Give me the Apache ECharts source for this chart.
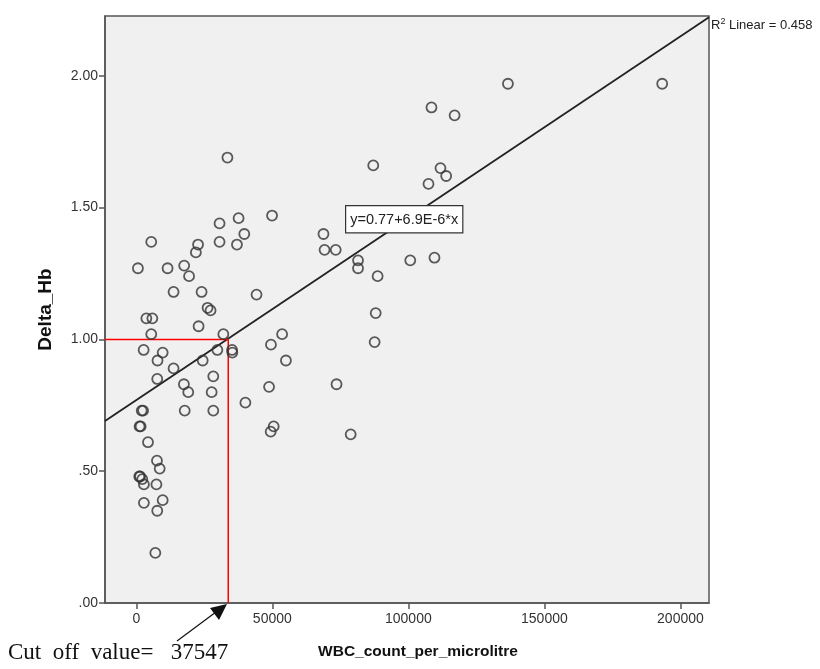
<!DOCTYPE html>
<html>
<head>
<meta charset="utf-8">
<script src="https://cdn.jsdelivr.net/npm/echarts@6/dist/echarts.min.js"></script>
<style>html,body{margin:0;padding:0;background:#fff;}#main{width:820px;height:669px;}</style>
</head>
<body>
<div id="main"></div>
<script>
// WBC count per microlitre (x) and Delta_Hb (y)
const wbc = [
  49900, 37600, 30600, 39700, 5500, 22700, 30600, 37000, 21900, 600,
  11500, 17600, 19400, 13700, 24000, 44200, 26200, 27300, 3700, 5900,
  22900, 5500, 32000, 53600, 49500, 2700, 9700, 29800, 35200, 35300,
  7800, 24400, 55000, 13700, 7700, 28300, 48800, 17500, 19100, 27700,
  40100, 2000, 2500, 17800, 28300, 1200, 1600, 50500, 49400, 4300,
  7600, 8600, 1100, 1400, 2200, 2800, 7400, 9700, 2800, 7700,
  7000, 108500, 117000, 87100, 111800, 113900, 107400, 68800, 69200, 73300,
  81500, 81500, 100700, 109600, 88700, 88000, 87600, 73600, 78800, 136600,
  193300, 33500
];
const deltaHb = [
  1.47, 1.46, 1.44, 1.40, 1.37, 1.36, 1.37, 1.36, 1.33, 1.27,
  1.27, 1.28, 1.24, 1.18, 1.18, 1.17, 1.12, 1.11, 1.08, 1.08,
  1.05, 1.02, 1.02, 1.02, 0.98, 0.96, 0.95, 0.96, 0.96, 0.95,
  0.92, 0.92, 0.92, 0.89, 0.85, 0.86, 0.82, 0.83, 0.80, 0.80,
  0.76, 0.73, 0.73, 0.73, 0.73, 0.67, 0.67, 0.67, 0.65, 0.61,
  0.54, 0.51, 0.48, 0.48, 0.47, 0.45, 0.45, 0.39, 0.38, 0.35,
  0.19, 1.88, 1.85, 1.66, 1.65, 1.62, 1.59, 1.40, 1.34, 1.34,
  1.30, 1.27, 1.30, 1.31, 1.24, 1.10, 0.99, 0.83, 0.64, 1.97,
  1.97, 1.69
];
// linear fit y = 0.77 + 6.9E-6 * x
const fitIntercept = 0.77;
const fitSlope = 6.9e-6;
const xRange = [-11500, 210500];
const yRange = [0, 2.227];
const xTicks = [0, 50000, 100000, 150000, 200000];
const yTicks = [0, 0.5, 1.0, 1.5, 2.0];
// cut-off guide (x position as drawn in the picture)
const cutoffX = 33800;
const cutoffY = 1.0;

const points = wbc.map((x, i) => [x, deltaHb[i]]);
const fitLine = xRange.map(x => [x, fitIntercept + fitSlope * x]);
const cutoffLine = [[xRange[0], cutoffY], [cutoffX, cutoffY], [cutoffX, 0]];

const chart = echarts.init(document.getElementById('main'));
const font = 'Liberation Sans, Arial, sans-serif';
chart.setOption({
  backgroundColor: '#ffffff',
  animation: false,
  grid: {left: 105, top: 16, right: 111, bottom: 66, show: true,
    backgroundColor: '#f0f0f0', borderColor: '#555555', borderWidth: 1.5},
  xAxis: {
    type: 'value', min: xRange[0], max: xRange[1],
    name: 'WBC_count_per_microlitre', nameLocation: 'middle', nameGap: 41,
    nameTextStyle: {fontFamily: font, fontWeight: 'bold', fontSize: 15.5, color: '#111', padding: [0, 0, 0, 22]},
    axisLine: {show: true, onZero: false, lineStyle: {color: '#555', width: 1.5}},
    axisTick: {show: true, length: 6, customValues: xTicks, lineStyle: {color: '#555', width: 1.5}},
    axisLabel: {customValues: xTicks, fontFamily: font, fontSize: 14, color: '#333', margin: 9,
      formatter: v => String(v)},
    splitLine: {show: false}
  },
  yAxis: {
    type: 'value', min: yRange[0], max: yRange[1],
    name: 'Delta_Hb', nameLocation: 'middle', nameGap: 50, nameRotate: 90,
    nameTextStyle: {fontFamily: font, fontWeight: 'bold', fontSize: 19, color: '#111'},
    axisLine: {show: true, onZero: false, lineStyle: {color: '#555', width: 1.5}},
    axisTick: {show: true, length: 6, customValues: yTicks, lineStyle: {color: '#555', width: 1.5}},
    axisLabel: {customValues: yTicks, fontFamily: font, fontSize: 14, color: '#333', margin: 7,
      formatter: v => v.toFixed(2).replace(/^0/, '')},
    splitLine: {show: false}
  },
  series: [
    {type: 'line', data: fitLine, symbol: 'none', silent: true,
      lineStyle: {color: '#222', width: 1.8}, z: 2},
    {type: 'line', data: cutoffLine, symbol: 'none', silent: true,
      lineStyle: {color: '#ff0000', width: 1.5}, z: 3},
    {type: 'scatter', data: points, symbol: 'circle', symbolSize: 10,
      itemStyle: {color: 'rgba(0,0,0,0)', borderColor: '#333333', borderWidth: 1.8}, z: 4}
  ],
  graphic: [
    {type: 'text', left: 345, top: 205, z: 10,
      style: {text: 'y=0.77+6.9E-6*x', font: '14.5px ' + font, fill: '#222',
        backgroundColor: '#ffffff', borderColor: '#333', borderWidth: 1.2,
        padding: [6, 4, 5, 4]}},
    {type: 'text', left: 711, top: 17, z: 10,
      style: {rich: {s: {fontSize: 9, verticalAlign: 'top', fontFamily: font, fill: '#222', padding: [0,0,7,0]},
                     n: {fontSize: 13, fontFamily: font, fill: '#222'}},
        text: '{n|R}{s|2}{n| Linear = 0.458}'}},
    {type: 'text', left: 8, top: 641, z: 10,
      style: {text: 'Cut  off  value=   37547', font: '23px "Liberation Serif", "Times New Roman", serif', fill: '#111'}},
    {type: 'line', z: 10, shape: {x1: 177, y1: 641, x2: 216, y2: 612},
      style: {stroke: '#111', lineWidth: 1.2}},
    {type: 'polygon', z: 10, shape: {points: [[227, 604], [210, 608], [219, 620]]},
      style: {fill: '#111'}}
  ]
});
</script>
</body>
</html>
